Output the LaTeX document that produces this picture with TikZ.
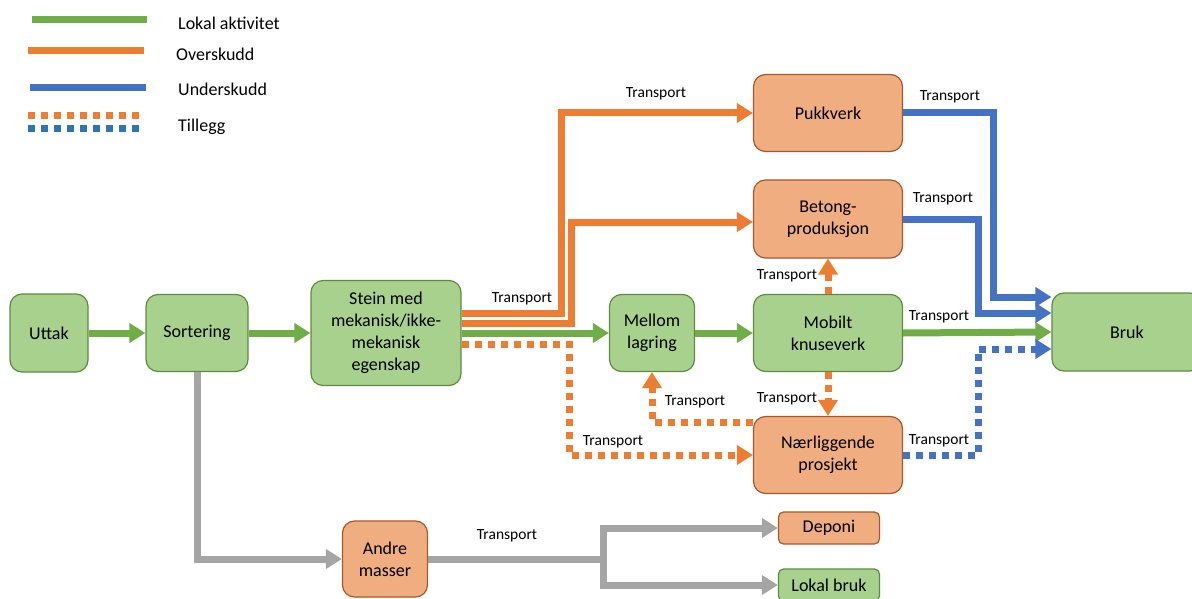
\documentclass[tikz,border=0pt]{standalone}
\usepackage{fontspec}
\setmainfont{Carlito}
\usetikzlibrary{arrows.meta}
\definecolor{grnline}{HTML}{70AD47}
\definecolor{grnfill}{HTML}{A9D18E}
\definecolor{grnedge}{HTML}{5E8C3E}
\definecolor{orgline}{HTML}{ED7D31}
\definecolor{orgfill}{HTML}{F0AE80}
\definecolor{orgedge}{HTML}{A9572A}
\definecolor{bluline}{HTML}{4472C4}
\definecolor{dotblue}{HTML}{2E75B6}
\definecolor{gryline}{HTML}{A5A5A5}
\tikzset{
  box/.style={line width=1.2pt, rounded corners=12pt, align=center, inner sep=0pt,
    font=\fontsize{18}{22}\selectfont},
  gbox/.style={box, draw=grnedge, fill=grnfill},
  obox/.style={box, draw=orgedge, fill=orgfill},
  flow/.style={line width=7pt, -{Triangle[length=16pt,width=19pt]}},
  lok/.style={flow, draw=grnline},
  ovr/.style={flow, draw=orgline},
  und/.style={flow, draw=bluline},
  gry/.style={flow, draw=gryline},
  ovrdot/.style={ovr, dash pattern=on 7pt off 6pt},
  unddot/.style={und, dash pattern=on 7pt off 6pt},
  lbl/.style={font=\fontsize{15.5}{18}\selectfont, inner sep=1pt},
  leg/.style={anchor=west, font=\fontsize{18}{22}\selectfont, inner sep=0pt}
}
\begin{document}
\begin{tikzpicture}[x=1pt,y=-1pt]
\useasboundingbox (0,0) rectangle (1192,599);
% legend
\draw[lok,-] (32,20) -- (147,20);
\draw[ovr,-] (28,51) -- (144,51);
\draw[und,-] (30,88) -- (146,88);
\draw[ovrdot,-] (28,116) -- (144,116);
\draw[unddot,-,draw=dotblue] (28,129) -- (144,129);
\node[leg] (legLok) at (178,23) {Lokal aktivitet};
\node[leg] (legOvr) at (176,54) {Overskudd};
\node[leg] (legUnd) at (178,89) {Underskudd};
\node[leg] (legTil) at (178,127) {Tillegg};
% boxes
\node[gbox, minimum width=78pt, minimum height=78pt] (uttak) at (49,333) {Uttak};
\node[gbox, minimum width=102pt, minimum height=77pt] (sort) at (197,333) {Sortering};
\node[gbox, minimum width=150pt, minimum height=105pt] (stein) at (386,333) {Stein med\\mekanisk/ikke-\\mekanisk\\egenskap};
\node[gbox, minimum width=85pt, minimum height=77pt] (mellom) at (652,333) {Mellom\\lagring};
\node[gbox, minimum width=149pt, minimum height=77pt] (mobilt) at (828,333) {Mobilt\\knuseverk};
\node[gbox, minimum width=150pt, minimum height=78pt] (bruk) at (1127,332) {Bruk};
\node[obox, minimum width=149pt, minimum height=77pt] (pukk) at (828,113) {Pukkverk};
\node[obox, minimum width=149pt, minimum height=78pt] (betong) at (828,219) {Betong-\\produksjon};
\node[obox, minimum width=149pt, minimum height=77pt] (naer) at (828,455) {Nærliggende\\prosjekt};
\node[obox, minimum width=85pt, minimum height=76pt] (andre) at (385,559) {Andre\\masser};
\node[obox, minimum width=101pt, minimum height=32pt, rounded corners=5pt] (deponi) at (829,528) {Deponi};
\node[gbox, minimum width=101pt, minimum height=32pt, rounded corners=5pt] (lokal) at (829,585) {Lokal bruk};
% green flow
\draw[lok] (uttak) -- (sort);
\draw[lok] (sort) -- (stein);
\draw[lok] (stein) -- (mellom);
\draw[lok] (mellom) -- (mobilt);
\draw[lok] (mobilt.east) -- (bruk.west);
% orange flow
\draw[ovr] ([yshift=20pt]stein.east) -| (561,113) -- (pukk.west);
\draw[ovr] ([yshift=10pt]stein.east) -| (571,222) -- (betong.west |- 571,222);
\draw[ovrdot] ([yshift=-11pt]stein.east) -| (569,455) -- (naer.west);
\draw[ovrdot] (mobilt) -- (betong);
\draw[ovrdot] (mobilt) -- (naer);
\draw[ovrdot] ([yshift=33pt]naer.west) -| (mellom.south);
% blue flow
\draw[und] (pukk.east) -| (993,297) -- (bruk.west |- 993,297);
\draw[und] (betong.east) -| (978,313) -- (bruk.west |- 978,313);
\draw[unddot] (naer.east) -| (978,349) -- (bruk.west |- 978,349);
% grey flow
\coordinate (split) at (603,559);
\draw[gry] (sort.south) |- (andre.west);
\draw[gry,-] (andre.east) -- (split);
\draw[gry] (split) |- (deponi.west);
\draw[gry] (split) |- (lokal.west);
% labels
\node[lbl] (tPukk) at (656,94) {Transport};
\node[lbl] (tStein) at (522,299) {Transport};
\node[lbl] (tPukkBruk) at (950,97) {Transport};
\node[lbl] (tBetBruk) at (943,199) {Transport};
\node[lbl] (tMobBruk) at (939,317) {Transport};
\node[lbl] (tNaerBruk) at (939,441) {Transport};
\node[lbl] (tMobBet) at (787,276) {Transport};
\node[lbl] (tMobNaer) at (787,399) {Transport};
\node[lbl] (tNaerMel) at (695,402) {Transport};
\node[lbl] (tSteinNaer) at (613,442) {Transport};
\node[lbl] (tAndre) at (507,536) {Transport};
\end{tikzpicture}
\end{document}
